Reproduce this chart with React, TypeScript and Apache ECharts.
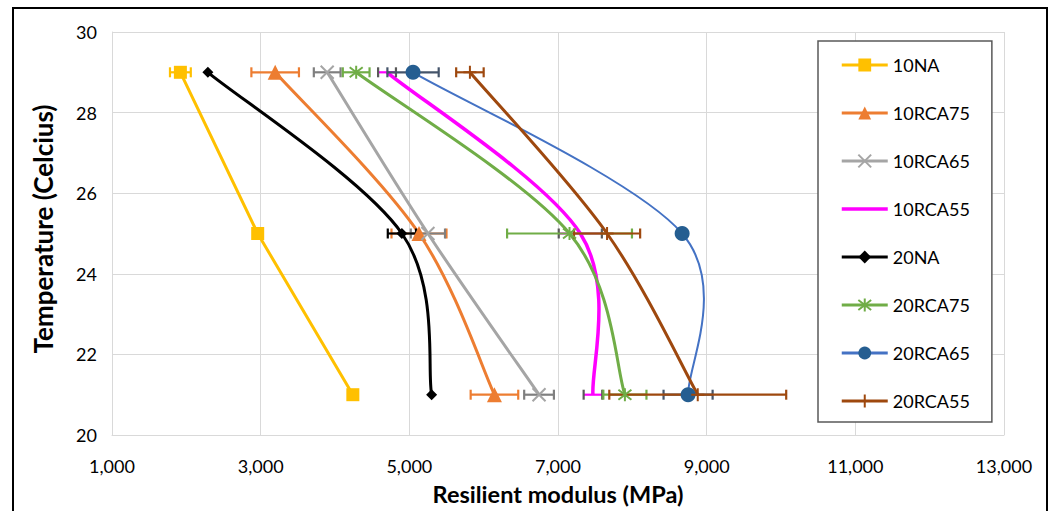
import React, { useEffect, useRef } from "react";
import * as echarts from "echarts";

const temperatures = [29, 25, 21];
const seriesNames = ["10NA", "10RCA75", "10RCA65", "10RCA55", "20NA", "20RCA75", "20RCA65", "20RCA55"];

const m10NA = [1920, 2960, 4240];
const m10RCA75 = [3195, 5130, 6145];
const m10RCA65 = [3895, 5250, 6745];
const m10RCA55 = [4700, 7300, 7470];
const m20NA = [2290, 4900, 5300];
const m20RCA75 = [4285, 7155, 7900];
const m20RCA65 = [5050, 8670, 8750];
const m20RCA55 = [5815, 7660, 8880];

const e10NA = [140, 0, 0];
const e10RCA75 = [320, 370, 320];
const e10RCA65 = [180, 230, 200];
const e10RCA55 = [120, 290, 125];
const e20NA = [0, 190, 0];
const e20RCA75 = [180, 840, 290];
const e20RCA65 = [345, 0, 330];
const e20RCA55 = [185, 445, 1190];

const xTicks = { min: 1000, max: 13000, interval: 2000 };
const yTicks = { min: 20, max: 30, interval: 2 };

const FONT = "Lato, 'Open Sans', sans-serif";

type Cfg = {
  values: number[];
  errs: number[];
  color: string;
  width: number;
  symbol: string;
  size: number;
  smooth: boolean;
  markerColor?: string;
  stroke?: boolean;
  barColor: string;
  capColor: string;
};

const X_PATH = "path://M0,0L10,10M10,0L0,10";
const STAR_PATH = "path://M0,0L10,10M10,0L0,10M5,-1.5L5,11.5";
const PLUS_PATH = "path://M5,0L5,10M0,5L10,5";

const configs: Cfg[] = [
  { values: m10NA, errs: e10NA, color: "#FFC000", width: 3, symbol: "rect", size: 13, smooth: false, barColor: "#FFC000", capColor: "#FFC000" },
  { values: m10RCA75, errs: e10RCA75, color: "#ED7D31", width: 3, symbol: "triangle", size: 15, smooth: true, barColor: "#ED7D31", capColor: "#ED7D31" },
  { values: m10RCA65, errs: e10RCA65, color: "#A5A5A5", width: 3, symbol: X_PATH, size: 13, smooth: true, stroke: true, barColor: "#7F7F7F", capColor: "#7F7F7F" },
  { values: m10RCA55, errs: e10RCA55, color: "#FF00FF", width: 3.5, symbol: "none", size: 0, smooth: true, barColor: "#FF00FF", capColor: "#595959" },
  { values: m20NA, errs: e20NA, color: "#000000", width: 3, symbol: "diamond", size: 11, smooth: true, barColor: "#000000", capColor: "#000000" },
  { values: m20RCA75, errs: e20RCA75, color: "#70AD47", width: 3, symbol: STAR_PATH, size: 13, smooth: true, stroke: true, barColor: "#70AD47", capColor: "#70AD47" },
  { values: m20RCA65, errs: e20RCA65, color: "#4472C4", width: 2, symbol: "circle", size: 15, smooth: true, markerColor: "#255E91", barColor: "#44546A", capColor: "#44546A" },
  { values: m20RCA55, errs: e20RCA55, color: "#9E480E", width: 3, symbol: PLUS_PATH, size: 13, smooth: true, stroke: true, barColor: "#9E480E", capColor: "#9E480E" },
];

export default function App() {
  const ref = useRef<HTMLDivElement>(null);

  useEffect(() => {
    if (!ref.current) return;
    const chart = echarts.init(ref.current, null, { renderer: "svg" });

    // Curves drawn like a spreadsheet's smoothed line (Catmull-Rom style Bezier)
    const curveSeries: any[] = configs.map((c, i) => ({
      name: seriesNames[i] + " curve",
      type: "custom",
      silent: true,
      z: 2,
      data: [[c.values[0], temperatures[0]]],
      renderItem: (params: any, api: any) => {
        const pts = c.values.map((v, k) => api.coord([v, temperatures[k]]));
        let d = `M${pts[0][0]},${pts[0][1]}`;
        for (let k = 0; k < pts.length - 1; k++) {
          const p1 = pts[k];
          const p2 = pts[k + 1];
          if (!c.smooth) {
            d += `L${p2[0]},${p2[1]}`;
            continue;
          }
          const p0 = pts[k - 1] || pts[k];
          const p3 = pts[k + 2] || pts[k + 1];
          const c1x = p1[0] + (p2[0] - p0[0]) / 6;
          const c1y = p1[1] + (p2[1] - p0[1]) / 6;
          const c2x = p2[0] - (p3[0] - p1[0]) / 6;
          const c2y = p2[1] - (p3[1] - p1[1]) / 6;
          d += `C${c1x},${c1y},${c2x},${c2y},${p2[0]},${p2[1]}`;
        }
        return {
          type: "path",
          shape: { pathData: d },
          style: { fill: "none", stroke: c.color, lineWidth: c.width, lineJoin: "round" },
        };
      },
    }));

    const lineSeries: any[] = configs.map((c, i) => ({
      name: seriesNames[i],
      type: "line",
      data: c.values.map((v, k) => [v, temperatures[k]]),
      symbol: c.symbol,
      symbolSize: c.size,
      showSymbol: c.symbol !== "none",
      lineStyle: { color: c.color, width: c.width, opacity: 0 },
      itemStyle: c.stroke
        ? { color: c.color, borderColor: c.color, borderWidth: 2 }
        : { color: c.markerColor || c.color, borderWidth: 0 },
      z: 4,
    }));

    const errSeries: any[] = configs.map((c, i) => ({
      name: seriesNames[i] + " error",
      type: "custom",
      silent: true,
      z: 3,
      encode: { x: [2, 3], y: 1 },
      data: c.values
        .map((v, k) => [v, temperatures[k], v - c.errs[k], v + c.errs[k], c.errs[k]])
        .filter((d) => d[4] > 0),
      renderItem: (params: any, api: any) => {
        const t = api.value(1);
        const p1 = api.coord([api.value(2), t]);
        const p2 = api.coord([api.value(3), t]);
        const h = 5;
        return {
          type: "group",
          children: [
            { type: "line", shape: { x1: p1[0], y1: p1[1], x2: p2[0], y2: p2[1] }, style: { stroke: c.barColor, lineWidth: 2.2 } },
            { type: "line", shape: { x1: p1[0], y1: p1[1] - h, x2: p1[0], y2: p1[1] + h }, style: { stroke: c.capColor, lineWidth: 2.2 } },
            { type: "line", shape: { x1: p2[0], y1: p2[1] - h, x2: p2[0], y2: p2[1] + h }, style: { stroke: c.capColor, lineWidth: 2.2 } },
          ],
        };
      },
    }));

    const legendData = seriesNames.map((n, i) => {
      const c = configs[i];
      const item: any = { name: n, lineStyle: { width: Math.max(c.width, 3), color: c.color, opacity: 1 } };
      if (c.symbol === "none") item.itemStyle = { opacity: 0 };
      return item;
    });

    chart.setOption({
      animation: false,
      backgroundColor: "#ffffff",
      grid: { left: 112, right: 47, top: 32, bottom: 76, containLabel: false },
      xAxis: {
        type: "value",
        min: xTicks.min,
        max: xTicks.max,
        interval: xTicks.interval,
        axisLine: { show: true, lineStyle: { color: "#D9D9D9", width: 1 } },
        axisTick: { show: false },
        splitLine: { show: true, lineStyle: { color: "#D9D9D9", width: 1 } },
        axisLabel: {
          margin: 22,
          color: "#000000",
          fontSize: 18,
          fontFamily: FONT,
          formatter: (v: number) => v.toLocaleString("en-US"),
        },
      },
      yAxis: {
        type: "value",
        min: yTicks.min,
        max: yTicks.max,
        interval: yTicks.interval,
        axisLine: { show: true, lineStyle: { color: "#D9D9D9", width: 1 } },
        axisTick: { show: false },
        splitLine: { show: true, lineStyle: { color: "#D9D9D9", width: 1 } },
        axisLabel: { margin: 15, color: "#000000", fontSize: 18, fontFamily: FONT },
      },
      legend: {
        data: legendData,
        orient: "vertical",
        left: 818,
        top: 41,
        itemWidth: 46,
        itemHeight: 16,
        itemGap: 30,
        padding: [15, 22, 12, 22],
        borderColor: "#595959",
        borderWidth: 1.5,
        backgroundColor: "#ffffff",
        lineStyle: { opacity: 1 },
        textStyle: { color: "#000000", fontSize: 18, fontFamily: FONT, lineHeight: 16 },
      },
      graphic: [
        {
          type: "rect",
          shape: { x: 13, y: 8, width: 1034, height: 520 },
          style: { fill: "none", stroke: "#000000", lineWidth: 2 },
          silent: true,
        },
        {
          type: "text",
          x: 43,
          y: 229,
          rotation: Math.PI / 2,
          style: {
            text: "Temperature (Celcius)",
            fontSize: 26,
            fontWeight: "bold",
            fontFamily: FONT,
            fill: "#000000",
            align: "center",
            verticalAlign: "middle",
          },
        },
        {
          type: "text",
          x: 558,
          y: 494,
          style: {
            text: "Resilient modulus (MPa)",
            fontSize: 23.5,
            fontWeight: "bold",
            fontFamily: FONT,
            fill: "#000000",
            align: "center",
            verticalAlign: "middle",
          },
        },
      ],
      series: [...curveSeries, ...errSeries, ...lineSeries],
    });

    return () => chart.dispose();
  }, []);

  return (
    <div
      ref={ref}
      style={{ position: "fixed", left: 0, top: 0, width: 1051, height: 511, background: "#fff" }}
    />
  );
}
